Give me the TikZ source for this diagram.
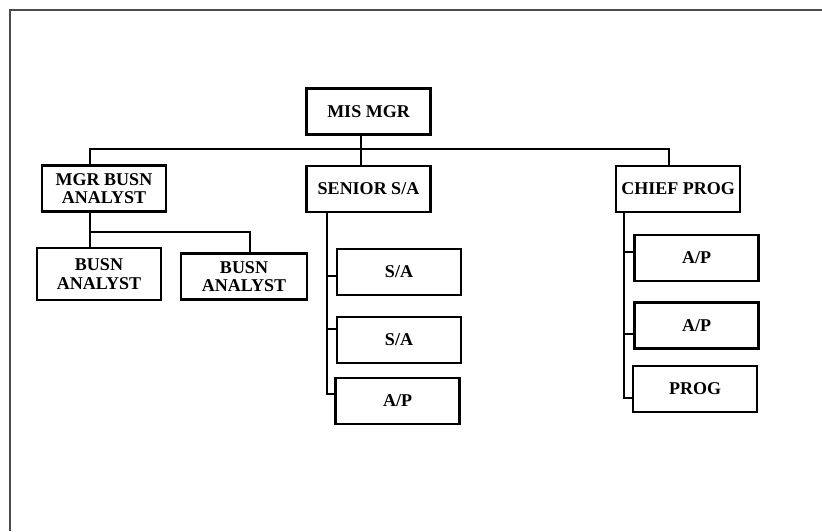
\documentclass[tikz,border=0pt]{standalone}
\usepackage{fontspec}
\setmainfont{Liberation Serif}
\usepackage{tikz}

\tikzset{
  post/.style={draw, line width=2.4pt, minimum width=124pt, minimum height=46pt,
    inner sep=0pt, align=center, font=\bfseries\fontsize{18}{18.5}\selectfont},
  link/.style={line width=2pt}
}

\begin{document}
\begin{tikzpicture}[x=1pt, y=-1pt]

    \useasboundingbox (0,0) rectangle (822,531);

    % Page frame, cut off at right and bottom
    \draw[gray!60!black, line width=1.5pt] (10,531) -- (10,10) -- (822,10);

    % Top of the chart
    \node[post] (mis) at (368.5,111.5) {MIS MGR};

    % Second row
    \node[post] (mgrba) at (104,188.5) {MGR BUSN\\ANALYST};
    \node[post] (senior) at (368.5,189) {SENIOR S/A};
    \node[post] (chief) at (678,189) {CHIEF PROG};

    % Under MGR BUSN ANALYST
    \node[post, minimum height=52pt] (busn1) at (99,274) {BUSN\\ANALYST};
    \node[post, minimum width=126pt] (busn2) at (244,276.5) {BUSN\\ANALYST};

    % Under SENIOR S/A
    \node[post] (sa1) at (399,272) {S/A};
    \node[post] (sa2) at (399,340) {S/A};
    \node[post] (ap1) at (397.5,401) {A/P};

    % Under CHIEF PROG
    \node[post] (ap2) at (696.5,258) {A/P};
    \node[post] (ap3) at (696.5,325.5) {A/P};
    \node[post] (prog) at (695,389) {PROG};

    % Bus from MIS MGR to the second row
    \coordinate (bus) at (361,149);
    \draw[link] ([xshift=-7.5pt]mis.south) -- ([xshift=-7.5pt]senior.north);
    \draw[link] ([xshift=-14pt]mgrba.north) |- (bus) -| ([xshift=-9pt]chief.north);

    % MGR BUSN ANALYST branch
    \coordinate (mgrjoint) at (90,232);
    \draw[link] ([xshift=-14pt]mgrba.south) -- ([xshift=-9pt]busn1.north);
    \draw[link] (mgrjoint) -| ([xshift=6pt]busn2.north);

    % SENIOR S/A trunk and ticks
    \coordinate (srtop) at ([xshift=-41.5pt]senior.south);
    \coordinate (sa1w) at ([yshift=-4pt]sa1.west);
    \coordinate (sa2w) at ([yshift=11pt]sa2.west);
    \draw[link] (srtop) |- ([yshift=7pt]ap1.west);
    \draw[link] (sa1w) -- (srtop |- sa1w);
    \draw[link] (sa2w) -- (srtop |- sa2w);

    % CHIEF PROG trunk and ticks
    \coordinate (chtop) at ([xshift=-54pt]chief.south);
    \coordinate (ap2w) at ([yshift=6pt]ap2.west);
    \coordinate (ap3w) at ([yshift=-8.5pt]ap3.west);
    \draw[link] (chtop) |- ([yshift=-9pt]prog.west);
    \draw[link] (ap2w) -- (chtop |- ap2w);
    \draw[link] (ap3w) -- (chtop |- ap3w);

\end{tikzpicture}
\end{document}
